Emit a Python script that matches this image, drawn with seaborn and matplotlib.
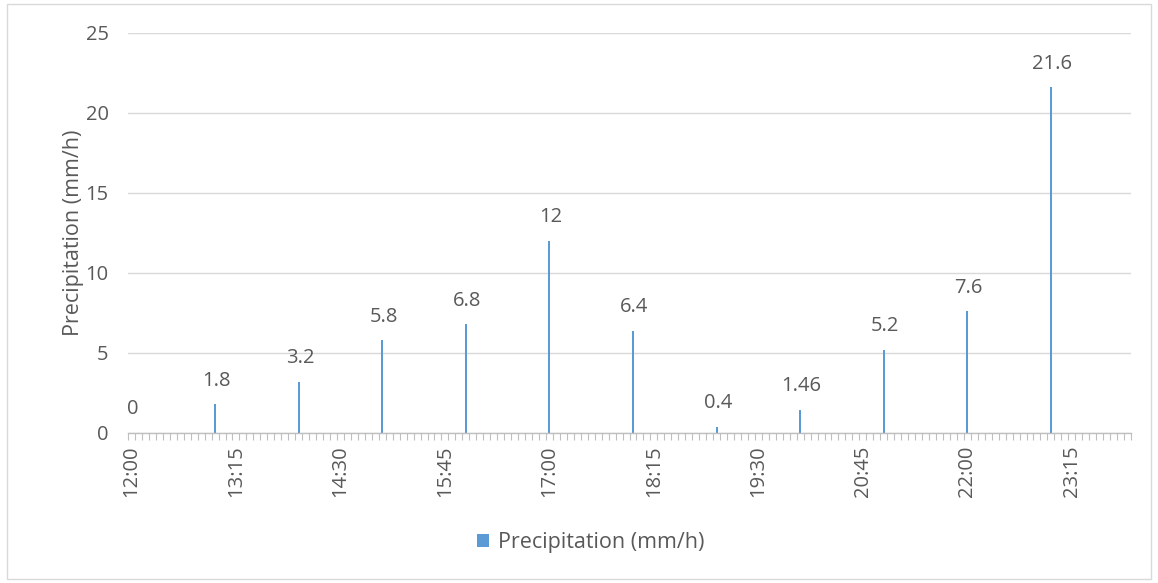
import numpy as np
import pandas as pd
import seaborn as sns
import matplotlib.pyplot as plt
from matplotlib.patches import Patch, Rectangle

# Hourly precipitation readings
hours = ["12:00", "13:00", "14:00", "15:00", "16:00", "17:00",
         "18:00", "19:00", "20:00", "21:00", "22:00", "23:00"]
precip = [0, 1.8, 3.2, 5.8, 6.8, 12, 6.4, 0.4, 1.46, 5.2, 7.6, 21.6]

# Category axis: 5-minute slots from 12:00 to 23:55
slot_start = "12:00"
slot_end = "23:55"
slot_freq = "5min"
label_every = 15  # one label every 75 minutes

series_name = "Precipitation (mm/h)"
bar_color = "#5B9BD5"
text_color = "#595959"
grid_color = "#D9D9D9"
fs = 14.5

slots = pd.date_range(f"2000-01-01 {slot_start}", f"2000-01-01 {slot_end}",
                      freq=slot_freq).strftime("%H:%M").tolist()
df = pd.DataFrame({"time": slots})
df["value"] = df["time"].map(dict(zip(hours, precip)))

sns.set_theme(style="white")
plt.rcParams["font.family"] = ["Open Sans", "DejaVu Sans"]

fig = plt.figure(figsize=(11.58, 5.83), dpi=100)
ax = fig.add_axes([128 / 1158, 150 / 583, 1003 / 1158, 400 / 583])

sns.barplot(data=df, x="time", y="value", order=slots, color=bar_color,
            width=0.3, saturation=1, ax=ax, errorbar=None,
            linewidth=0, edgecolor=bar_color)

ax.set_xlim(-0.5, len(slots) - 0.5)
ax.set_ylim(0, 25)
ax.set_yticks([0, 5, 10, 15, 20, 25])
ax.yaxis.grid(True, color=grid_color, linewidth=1)
ax.set_axisbelow(True)
for side in ["top", "right", "left"]:
    ax.spines[side].set_visible(False)
ax.spines["bottom"].set_color("#BFBFBF")
ax.spines["bottom"].set_linewidth(1)

# Labelled major ticks and a small tick at every slot boundary
major = list(range(0, len(slots), label_every))
ax.set_xticks(major)
ax.set_xticklabels([slots[i] for i in major], rotation=90, ha="center", va="top")
ax.set_xticks(np.arange(-0.5, len(slots), 1.0), minor=True)
ax.tick_params(axis="x", which="major", length=0, pad=9, labelsize=fs,
               labelcolor=text_color)
ax.tick_params(axis="x", which="minor", length=5, width=0.8, color="#BFBFBF",
               direction="out", bottom=True)
ax.tick_params(axis="y", length=0, pad=14, labelsize=fs, labelcolor=text_color)

ax.set_xlabel("")
ax.set_ylabel(series_name, fontsize=15.5, color=text_color, labelpad=1)

# Value labels above each bar
for h, v in zip(hours, precip):
    ax.annotate(f"{v:g}", xy=(slots.index(h), v), xytext=(1, 17),
                textcoords="offset points", ha="center", va="center",
                fontsize=fs, color=text_color)

fig.legend(handles=[Patch(facecolor=bar_color, edgecolor="none", label=series_name)],
           loc="center", bbox_to_anchor=(0.51, 0.069), frameon=False,
           fontsize=15.5, handlelength=0.55, handleheight=0.55, handletextpad=0.4,
           labelcolor=text_color)

fig.patches.append(Rectangle((7 / 1158, 4 / 583), 1144 / 1158, 575 / 583,
                             transform=fig.transFigure, fill=False,
                             edgecolor=grid_color, linewidth=1))

fig.savefig("out.png", dpi=100)
